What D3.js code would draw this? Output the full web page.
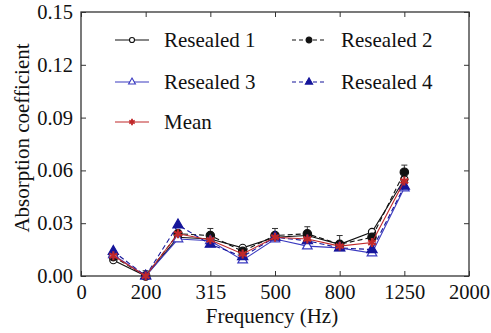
<!DOCTYPE html>
<html>
<head>
<meta charset="utf-8">
<script src="https://cdn.jsdelivr.net/npm/d3@7"></script>
<style>
  body { margin: 0; background: #fff; }
  svg text { font-family: "Liberation Serif", "Times New Roman", Times, serif !important; }
</style>
</head>
<body>
<div id="chart"></div>
<script>
// Frequency bands (positions on an ordinal-like axis, half steps between ticks)
const freqs = [160, 200, 250, 315, 400, 500, 630, 800, 1000, 1250];
const freqPos = [0.5, 1, 1.5, 2, 2.5, 3, 3.5, 4, 4.5, 5];
const tickLabels = ["0", "200", "315", "500", "800", "1250", "2000"];
const yTicks = [0, 0.03, 0.06, 0.09, 0.12, 0.15];

const resealed1 = [0.009, 0.000, 0.022, 0.021, 0.016, 0.022, 0.023, 0.018, 0.025, 0.055];
const resealed2 = [0.011, 0.000, 0.024, 0.023, 0.014, 0.023, 0.024, 0.018, 0.022, 0.059];
const resealed3 = [0.012, 0.000, 0.021, 0.020, 0.009, 0.021, 0.017, 0.016, 0.013, 0.050];
const resealed4 = [0.014, 0.000, 0.029, 0.018, 0.011, 0.022, 0.020, 0.016, 0.015, 0.051];
const meanVals  = [0.0115, 0.000, 0.024, 0.0205, 0.0125, 0.022, 0.021, 0.017, 0.019, 0.054];
const errUp     = [0.002, 0.003, 0.002, 0.004, 0.001, 0.004, 0.004, 0.005, 0.002, 0.004];

const width = 491, height = 333;
const margin = { top: 12, right: 22, bottom: 57, left: 81 };
const w = width - margin.left - margin.right;
const h = height - margin.top - margin.bottom;

const x = d3.scaleLinear().domain([0, 6]).range([0, w]);
const y = d3.scaleLinear().domain([0, 0.15]).range([h, 0]);

const svg = d3.select("#chart").append("svg")
  .attr("width", width).attr("height", height);
const g = svg.append("g").attr("transform", `translate(${margin.left},${margin.top})`);

// frame
g.append("rect").attr("width", w).attr("height", h)
  .attr("fill", "none").attr("stroke", "#333").attr("stroke-width", 1.3);

// axes with inward ticks
const fs = "21px";
const xAxis = g.append("g").attr("transform", `translate(0,${h})`)
  .call(d3.axisBottom(x).tickValues(d3.range(7)).tickFormat((d) => tickLabels[d]).tickSizeInner(-5).tickSizeOuter(0).tickPadding(8));
const xTop = g.append("g")
  .call(d3.axisTop(x).tickValues(d3.range(7)).tickSizeInner(-5).tickSizeOuter(0).tickFormat(""));
const yAxis = g.append("g")
  .call(d3.axisLeft(y).tickValues(yTicks).tickFormat(d3.format(".2f")).tickSizeInner(-5).tickSizeOuter(0).tickPadding(8));
const yRight = g.append("g").attr("transform", `translate(${w},0)`)
  .call(d3.axisRight(y).tickValues(yTicks).tickSizeInner(-5).tickSizeOuter(0).tickFormat(""));

[xAxis, xTop, yAxis, yRight].forEach((a) => {
  a.attr("font-family", null);
  a.select(".domain").remove();
  a.selectAll("line").attr("stroke", "#333");
  a.selectAll("text").attr("font-size", "20.5px").attr("fill", "#111");
});

// axis titles
svg.append("text").attr("x", margin.left + w / 2 - 3).attr("y", 323)
  .attr("text-anchor", "middle").attr("font-size", fs).attr("fill", "#111")
  .text("Frequency (Hz)");
svg.append("text").attr("transform", `translate(29,138) rotate(-90)`)
  .attr("text-anchor", "middle").attr("font-size", fs).attr("fill", "#111")
  .text("Absorption coefficient");

const series = [
  { name: "Resealed 1", values: resealed1, color: "#111", dash: null, shape: d3.symbolCircle, fill: "#fff", size: 40 },
  { name: "Resealed 2", values: resealed2, color: "#111", dash: "5,3", shape: d3.symbolCircle, fill: "#111", size: 55 },
  { name: "Resealed 3", values: resealed3, color: "#3a3ac0", dash: null, shape: d3.symbolTriangle, fill: "#fff", size: 40 },
  { name: "Resealed 4", values: resealed4, color: "#15159a", dash: "5,3", shape: d3.symbolTriangle, fill: "#15159a", size: 45 },
  { name: "Mean", values: meanVals, color: "#c0282a", dash: null, shape: d3.symbolAsterisk, fill: "none", size: 55 }
];

// error bars (upward) on Resealed 2
g.selectAll(".err").data(freqPos).enter().append("g").each(function (p, i) {
  const e = d3.select(this);
  const cx = x(p), y0 = y(resealed2[i]), y1 = y(resealed2[i] + errUp[i]);
  e.append("line").attr("x1", cx).attr("x2", cx).attr("y1", y0).attr("y2", y1).attr("stroke", "#333");
  e.append("line").attr("x1", cx - 3).attr("x2", cx + 3).attr("y1", y1).attr("y2", y1).attr("stroke", "#333");
});

const line = d3.line().x((d) => x(d[0])).y((d) => y(d[1]));

series.forEach((s) => {
  const pts = freqPos.map((p, i) => [p, s.values[i]]);
  g.append("path").datum(pts).attr("d", line)
    .attr("fill", "none").attr("stroke", s.color).attr("stroke-width", 1.1)
    .attr("stroke-dasharray", s.dash);
  g.selectAll(null).data(pts).enter().append("path")
    .attr("transform", (d) => `translate(${x(d[0])},${y(d[1])})`)
    .attr("d", d3.symbol(s.shape, s.size))
    .attr("fill", s.fill).attr("stroke", s.color).attr("stroke-width", s.shape === d3.symbolAsterisk ? 2.2 : 1.2);
});

// legend
const legendItems = [
  { s: series[0], lx: 115, ly: 40 },
  { s: series[1], lx: 292, ly: 40 },
  { s: series[2], lx: 115, ly: 82 },
  { s: series[3], lx: 292, ly: 82 },
  { s: series[4], lx: 115, ly: 122 }
];
legendItems.forEach(({ s, lx, ly }) => {
  const lg = svg.append("g");
  lg.append("line").attr("x1", lx).attr("x2", lx + 34).attr("y1", ly).attr("y2", ly)
    .attr("stroke", s.color).attr("stroke-width", 1.1).attr("stroke-dasharray", s.dash ? "4,3" : null);
  lg.append("path").attr("transform", `translate(${lx + 17},${ly})`)
    .attr("d", d3.symbol(s.shape, s.size * 0.5))
    .attr("fill", s.fill).attr("stroke", s.color).attr("stroke-width", s.shape === d3.symbolAsterisk ? 1.8 : 1.1);
  lg.append("text").attr("x", lx + 49).attr("y", ly + 7)
    .attr("font-size", fs).attr("fill", "#111").text(s.name);
});
</script>
</body>
</html>
